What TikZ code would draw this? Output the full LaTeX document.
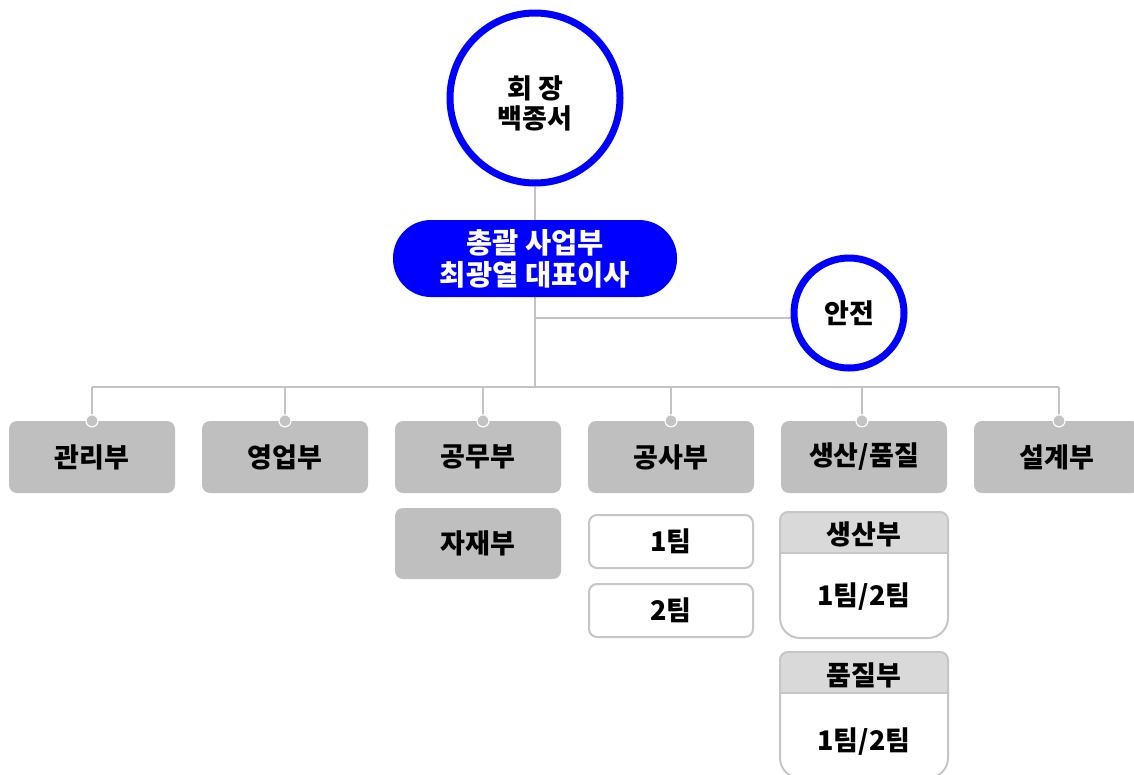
\documentclass[tikz,border=0pt]{standalone}
\usepackage{fontspec}
\setmainfont{Noto Sans CJK KR}
\usetikzlibrary{backgrounds}
\definecolor{bblue}{HTML}{0000FF}
\definecolor{boxgray}{HTML}{BFBFBF}
\definecolor{linegray}{HTML}{C3C3C3}
\definecolor{hdrgray}{HTML}{D9D9D9}
\definecolor{bordergray}{HTML}{C6C6C6}
\begin{document}
\begin{tikzpicture}[x=1pt,y=1pt,
  conn/.style={draw=linegray, line width=1.5pt},
  txt/.style={font=\fontsize{27}{31}\selectfont\bfseries, align=center, inner sep=0pt},
  dept/.style={txt, fill=boxgray, rounded corners=8pt, minimum width=166pt, minimum height=72pt},
  team/.style={txt, draw=bordergray, line width=2pt, fill=white, rounded corners=8pt, minimum width=164pt, minimum height=53pt},
  ring/.style={txt, circle, draw=bblue, line width=7pt, fill=white},
  pillbox/.style={font=\fontsize{28.5}{32}\selectfont\bfseries, align=center, text=white, fill=bblue, rounded corners=38pt, minimum width=284pt, minimum height=77pt},
  dot/.style={circle, fill=linegray, draw=white, line width=1.2pt, minimum size=12pt, inner sep=0pt},
  grpline/.style={draw=bordergray, line width=2pt}
]
\useasboundingbox (0,0) rectangle (1134,-774);
\clip (0,0) rectangle (1134,-774);

% top
\node[ring, minimum size=170pt] (pres) at (535,-98) {};
\node[txt, font=\fontsize{27}{30}\selectfont\bfseries] (prest) at (535,-103) {회 장\\백종서};
\node[pillbox] (ceo) at (535,-258.5) {총괄 사업부\\최광열 대표이사};
\node[ring, minimum size=110pt] (safe) at (849,-313) {안전};

% departments
\node[dept] (d1) at (92,-457) {관리부};
\node[dept] (d2) at (285,-457) {영업부};
\node[dept] (d3) at (478,-457) {공무부};
\node[dept] (d4) at (671,-457) {공사부};
\node[dept] (d5) at (864,-457) {생산/품질};
\node[dept] (d6) at (1057,-457) {설계부};

\node[dept, minimum height=71pt] (d3a) at (478,-543.5) {자재부};
\node[team] (t1) at (671,-541.5) {1팀};
\node[team] (t2) at (671,-610.5) {2팀};

% group 1 (생산부)
\fill[hdrgray] (780,-553) -- (780,-520) arc[start angle=180,end angle=90,radius=8] -- (940,-512) arc[start angle=90,end angle=0,radius=8] -- (948,-553) -- cycle;
\draw[grpline] (780,-553) -- (948,-553);
\draw[grpline] (780,-520) -- (780,-618) arc[start angle=180,end angle=270,radius=20] -- (928,-638) arc[start angle=270,end angle=360,radius=20] -- (948,-520) arc[start angle=0,end angle=90,radius=8] -- (788,-512) arc[start angle=90,end angle=180,radius=8] -- cycle;
\node[txt] (g1h) at (864,-534) {생산부};
\node[txt] (g1b) at (864,-597) {1팀/2팀};

% group 2 (품질부)
\fill[hdrgray] (780,-693) -- (780,-660) arc[start angle=180,end angle=90,radius=8] -- (940,-652) arc[start angle=90,end angle=0,radius=8] -- (948,-693) -- cycle;
\draw[grpline] (780,-693) -- (948,-693);
\draw[grpline] (780,-660) -- (780,-758) arc[start angle=180,end angle=270,radius=20] -- (928,-778) arc[start angle=270,end angle=360,radius=20] -- (948,-660) arc[start angle=0,end angle=90,radius=8] -- (788,-652) arc[start angle=90,end angle=180,radius=8] -- cycle;
\node[txt] (g2h) at (864,-675) {품질부};
\node[txt] (g2b) at (864,-742) {1팀/2팀};

% connectors
\coordinate (busL) at (92,-387);
\coordinate (busR) at (1059,-387);
\coordinate (jn) at (535,-318);
\begin{scope}[on background layer]
  \draw[conn] (pres) -- (ceo);
  \draw[conn] (ceo.south) -- (ceo.south |- busL);
  \draw[conn] (jn) -- (jn -| safe.center);
  \draw[conn] (busL) -- (busR);
  \draw[conn] (d1.north |- busL) -- (d1.north);
  \draw[conn] (d2.north |- busL) -- (d2.north);
  \draw[conn] ([xshift=5pt]d3.north |- busL) -- ([xshift=5pt]d3.north);
  \draw[conn] (d4.north |- busL) -- (d4.north);
  \draw[conn] ([xshift=-2pt]d5.north |- busL) -- ([xshift=-2pt]d5.north);
  \draw[conn] ([xshift=2pt]d6.north |- busL) -- ([xshift=2pt]d6.north);
\end{scope}
\node[dot] (p1) at (d1.north) {};
\node[dot] (p2) at (d2.north) {};
\node[dot] (p3) at ([xshift=5pt]d3.north) {};
\node[dot] (p4) at (d4.north) {};
\node[dot] (p5) at ([xshift=-2pt]d5.north) {};
\node[dot] (p6) at ([xshift=2pt]d6.north) {};
\end{tikzpicture}
\end{document}
